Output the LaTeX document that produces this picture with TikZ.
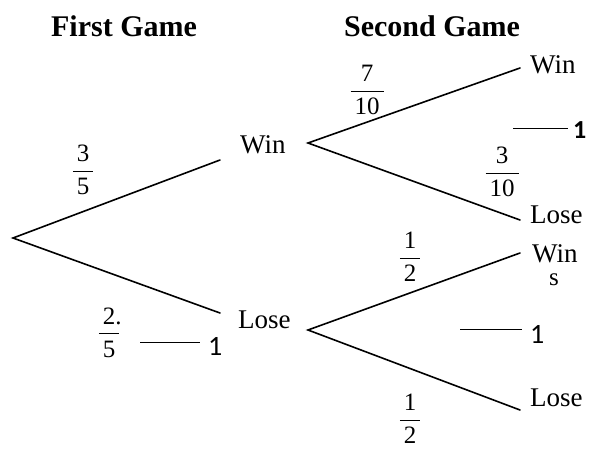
\documentclass[tikz,border=0pt]{standalone}
\usepackage{fontspec}
\setmainfont{Liberation Serif}
\newfontfamily\carl{Carlito}
\setlength{\arrayrulewidth}{1.1pt}
\newcommand{\fr}[2]{\begin{tabular}{@{\hspace{4pt}}c@{\hspace{4pt}}}#1\\[0pt]\hline\rule{0pt}{23pt}#2\end{tabular}}
\begin{document}
\begin{tikzpicture}[x=1pt,y=-1pt,
  branch/.style={line width=1.6pt, line cap=round},
  tick/.style={line width=0.9pt},
  lbl/.style={font=\fontsize{27}{30}\selectfont, inner sep=0pt, anchor=base west},
  ttl/.style={font=\fontsize{30}{34}\selectfont\bfseries, inner sep=0pt, anchor=base},
  frc/.style={font=\fontsize{25}{29}\selectfont, inner sep=0pt, anchor=center},
  one/.style={font=\fontsize{28}{30}\selectfont\carl, inner sep=0pt, anchor=base west}]
\useasboundingbox[fill=white] (0,0) rectangle (598,453);
% titles
\node[ttl] (t1) at (124,36) {First Game};
\node[ttl] (t2) at (432,36) {Second Game};
% junction coordinates
\coordinate (r) at (13,238);
\coordinate (a1) at (220,160);
\coordinate (b1) at (220,313);
\coordinate (c1) at (308,143);
\coordinate (c2) at (308,330);
\coordinate (d1) at (520,68);
\coordinate (d2) at (520,220);
\coordinate (e1) at (520,253);
\coordinate (e2) at (520,410);
% labels
\node[lbl] (win1) at (240,153) {Win};
\node[lbl] (lose1) at (238,328) {Lose};
\node[lbl] (win2) at (530,73) {Win};
\node[lbl] (lose2) at (530,223) {Lose};
\node[lbl] (win3) at (532,262) {Win};
\node[lbl,font=\fontsize{25}{28}\selectfont] (s3) at (549,285) {s};
\node[lbl] (lose3) at (530,406) {Lose};
% branches
\draw[branch] (a1) -- (r) -- (b1);
\draw[branch] (d1) -- (c1) -- (d2);
\draw[branch] (e1) -- (c2) -- (e2);
% fractions (node centre placed ~1.4pt below the bar)
\node[frc] (f35) at (83,172.5) {\fr{3}{5}};
\node[frc] (f25) at (109,335) {\fr{2\rlap{.}}{5}};
\node[frc] (f710) at (367,92.5) {\fr{7}{10}};
\node[frc] (f310) at (502,174.5) {\fr{3}{10}};
\node[frc] (f12a) at (410,259.5) {\fr{1}{2}};
\node[frc] (f12b) at (410,421.5) {\fr{1}{2}};
% dash-one marks
\node[one] (o1) at (208,355) {1};
\node[one,font=\fontsize{26}{30}\selectfont\carl\bfseries] (o2) at (573,138) {1};
\node[one] (o3) at (530,343) {1};
\coordinate (p1) at (140,342);
\coordinate (q1) at (200,342);
\coordinate (p2) at (513,128);
\coordinate (q2) at (568,128);
\coordinate (p3) at (460,329);
\coordinate (q3) at (522,329);
\draw[tick] (p1) -- (q1);
\draw[tick] (p2) -- (q2);
\draw[tick] (p3) -- (q3);
\end{tikzpicture}
\end{document}
